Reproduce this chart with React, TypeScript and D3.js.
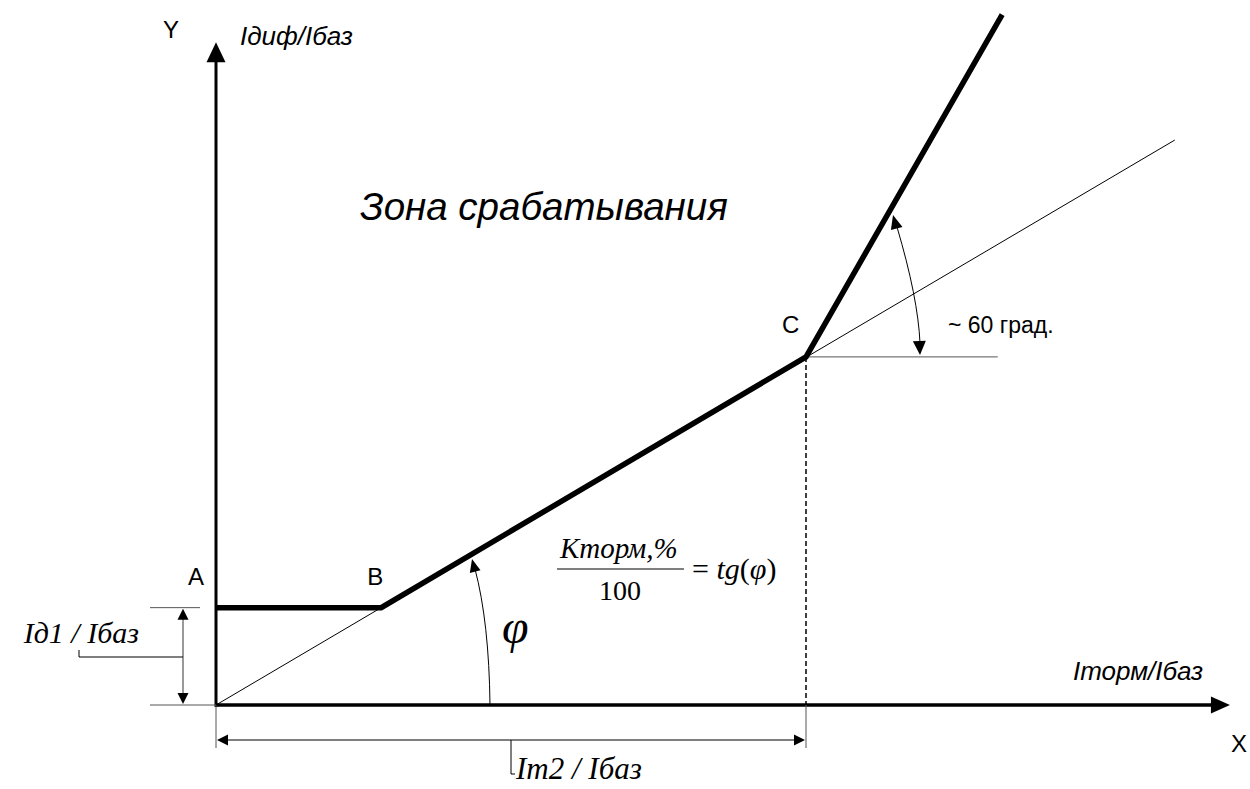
import React from "react";
import * as d3 from "d3";

// Characteristic (relative units Iторм/Iбаз, Iдиф/Iбаз)
const charX = [0, 0.56, 2.0, 2.665];
const charY = [0.33, 0.33, 1.18, 2.34];
// Thin slope line through origin, B and C
const slopeX = [0, 3.25];
const slopeY = [0, 1.915];
// Axis extents
const axisMaxX = [3.437];
const axisMaxY = [2.247];
const labels = {
  y: "Y",
  x: "X",
  yName: "Iдиф/Iбаз",
  xName: "Iторм/Iбаз",
  zone: "Зона срабатывания",
  angle: "~ 60 град.",
  id1: "Iд1 / Iбаз",
  im2: "Im2 / Iбаз",
};
const pointNames = ["A", "B", "C"];

const W = 1250;
const H = 789;
const PX = 295; // pixels per unit
const x0 = 216;
const y0 = 705;

const SANS = "'Liberation Sans', Arial, sans-serif";
const SERIF = "'Liberation Serif', 'Times New Roman', serif";

function head(tip: [number, number], from: [number, number], len: number, hw: number) {
  const dx = tip[0] - from[0];
  const dy = tip[1] - from[1];
  const d = Math.hypot(dx, dy);
  const ux = dx / d, uy = dy / d;
  const bx = tip[0] - ux * len, by = tip[1] - uy * len;
  const nx = -uy, ny = ux;
  return `${tip[0]},${tip[1]} ${bx + nx * hw},${by + ny * hw} ${bx - nx * hw},${by - ny * hw}`;
}

export default function App() {
  const x = d3.scaleLinear().domain([0, 1]).range([x0, x0 + PX]);
  const y = d3.scaleLinear().domain([0, 1]).range([y0, y0 - PX]);
  const line = d3.line<[number, number]>().x((d) => x(d[0])).y((d) => y(d[1]));

  const charPts: [number, number][] = charX.map((v, i) => [v, charY[i]]);
  const slopePts: [number, number][] = slopeX.map((v, i) => [v, slopeY[i]]);

  const A: [number, number] = [x(charX[0]), y(charY[0])];
  const B: [number, number] = [x(charX[1]), y(charY[1])];
  const C: [number, number] = [x(charX[2]), y(charY[2])];
  const xEnd = x(axisMaxX[0]);
  const yEnd = y(axisMaxY[0]);

  // phi arc
  const phiStart: [number, number] = [490, y0];
  const phiTip: [number, number] = [472, 559];
  const phiCtrl: [number, number] = [489, 622];
  // 60 deg arc
  const aStart: [number, number] = [893, 215];
  const aEnd: [number, number] = [920, 355];
  const aCtrl: [number, number] = [918, 298];

  const dimY = 740;
  const id1X = 183;
  const grey = "#555";
  const midX = (x0 + C[0]) / 2;

  return (
    <svg width={W} height={H} style={{ position: "absolute", left: 0, top: 0, background: "#fff" }}>
      <rect width={W} height={H} fill="#fff" />
      {/* thin slope line */}
      <path d={line(slopePts) || ""} fill="none" stroke="#000" strokeWidth={1} />
      {/* 60 deg reference horizontal */}
      <line x1={C[0]} y1={C[1]} x2={x(2.65)} y2={C[1]} stroke={grey} strokeWidth={1} />
      {/* dashed vertical from C */}
      <line x1={C[0]} y1={C[1]} x2={C[0]} y2={y0} stroke="#000" strokeWidth={1.5} strokeDasharray="5,3" />

      {/* axes */}
      <line x1={x0} y1={y0 + 2} x2={x0} y2={yEnd + 16} stroke="#000" strokeWidth={3} />
      <polygon points={head([x0, yEnd], [x0, y0], 20, 9.5)} fill="#000" />
      <line x1={x0 - 1} y1={y0} x2={xEnd - 16} y2={y0} stroke="#000" strokeWidth={3.5} />
      <polygon points={head([xEnd, y0], [x0, y0], 19, 8.5)} fill="#000" />

      {/* characteristic */}
      <path d={line(charPts) || ""} fill="none" stroke="#000" strokeWidth={5.5} strokeLinejoin="miter" />

      {/* Id1 dimension */}
      <line x1={150} y1={A[1]} x2={200} y2={A[1]} stroke={grey} strokeWidth={1} />
      <line x1={150} y1={y0} x2={x0} y2={y0} stroke={grey} strokeWidth={1} />
      <line x1={id1X} y1={A[1] + 8} x2={id1X} y2={y0 - 8} stroke={grey} strokeWidth={1.2} />
      <polygon points={head([id1X, A[1] + 1], [id1X, y0], 11, 5.5)} fill="#000" />
      <polygon points={head([id1X, y0 - 1], [id1X, A[1]], 11, 5.5)} fill="#000" />
      <polyline points={`${id1X},657 79,657 79,650`} fill="none" stroke="#000" strokeWidth={1} />
      <text x={139} y={643} textAnchor="end" fontFamily={SERIF} fontStyle="italic" fontSize={30}>{labels.id1}</text>

      {/* Im2 dimension */}
      <line x1={x0} y1={y0} x2={x0} y2={748} stroke={grey} strokeWidth={1} />
      <line x1={C[0]} y1={y0} x2={C[0]} y2={748} stroke={grey} strokeWidth={1} />
      <line x1={x0 + 8} y1={dimY} x2={C[0] - 8} y2={dimY} stroke="#000" strokeWidth={1.2} />
      <polygon points={head([x0 + 1, dimY], [C[0], dimY], 11, 5.5)} fill="#000" />
      <polygon points={head([C[0] - 1, dimY], [x0, dimY], 11, 5.5)} fill="#000" />
      <polyline points={`${midX},${dimY} ${midX},774 ${midX + 4},774`} fill="none" stroke="#000" strokeWidth={1} />
      <text x={516} y={779} fontFamily={SERIF} fontStyle="italic" fontSize={31}>{labels.im2}</text>

      {/* phi arc */}
      <path d={`M${phiStart[0]},${phiStart[1]} Q${phiCtrl[0]},${phiCtrl[1]} ${phiTip[0] + 3},${phiTip[1] + 10}`} fill="none" stroke="#000" strokeWidth={1} />
      <polygon points={head(phiTip, [phiTip[0] + 5, phiTip[1] + 20], 13, 5.5)} fill="#000" />
      <text x={502} y={643} fontFamily={SERIF} fontStyle="italic" fontSize={48}>φ</text>

      {/* 60 deg arc */}
      <path d={`M${aStart[0] + 4},${aStart[1] + 12} Q${aCtrl[0]},${aCtrl[1]} ${aEnd[0]},${aEnd[1] - 12}`} fill="none" stroke="#000" strokeWidth={1} />
      <polygon points={head(aStart, [aStart[0] + 6, aStart[1] + 22], 14, 6)} fill="#000" />
      <polygon points={head(aEnd, [aEnd[0] - 1, aEnd[1] - 22], 14, 6.5)} fill="#000" />

      {/* labels */}
      <text x={163} y={38} fontFamily={SANS} fontSize={24}>{labels.y}</text>
      <text x={240} y={45} fontFamily={SANS} fontStyle="italic" fontSize={26}>{labels.yName}</text>
      <text x={360} y={220} fontFamily={SANS} fontStyle="italic" fontSize={38.5}>{labels.zone}</text>
      <text x={A[0] - 28} y={585} fontFamily={SANS} fontSize={24}>{pointNames[0]}</text>
      <text x={B[0] - 14} y={585} fontFamily={SANS} fontSize={24}>{pointNames[1]}</text>
      <text x={C[0] - 24} y={333} fontFamily={SANS} fontSize={24}>{pointNames[2]}</text>
      <text x={948} y={333} fontFamily={SANS} fontSize={23}>{labels.angle}</text>
      <text x={1073} y={680} fontFamily={SANS} fontStyle="italic" fontSize={26}>{labels.xName}</text>
      <text x={1231} y={752} fontFamily={SANS} fontSize={24}>{labels.x}</text>

      {/* formula */}
      <text x={560} y={558} fontFamily={SERIF} fontStyle="italic" fontSize={29}>Kторм,%</text>
      <line x1={557} y1={569} x2={684} y2={569} stroke="#000" strokeWidth={1.2} />
      <text x={620} y={600} textAnchor="middle" fontFamily={SERIF} fontSize={28}>100</text>
      <text x={692} y={579} fontFamily={SERIF} fontSize={30}>
        <tspan>= </tspan>
        <tspan fontStyle="italic">tg</tspan>
        <tspan>(</tspan>
        <tspan fontStyle="italic">φ</tspan>
        <tspan>)</tspan>
      </text>
    </svg>
  );
}
